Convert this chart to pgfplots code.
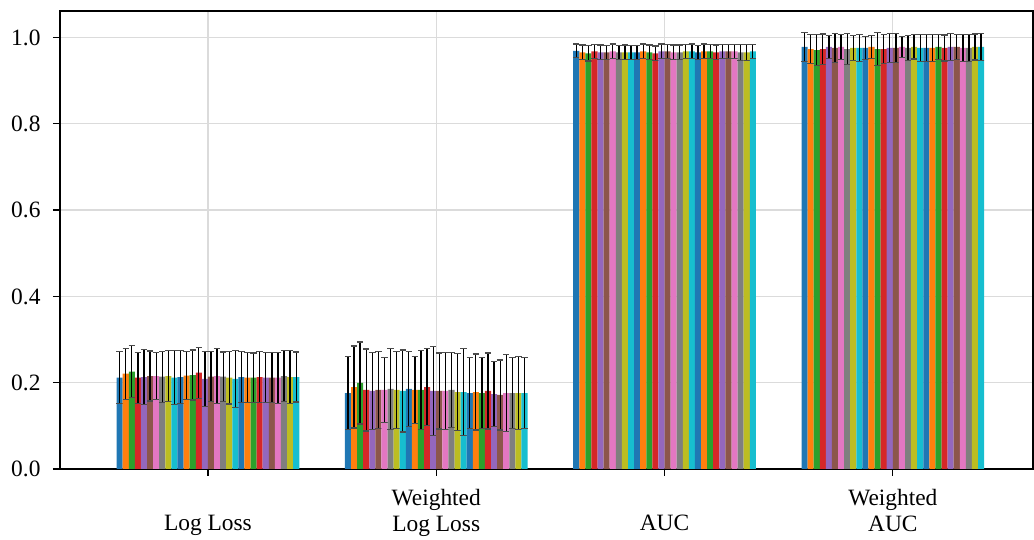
\documentclass[border=0pt]{standalone}
\usepackage{pgfplots}
\pgfplotsset{compat=1.18}
\usepackage{fontspec}
\setmainfont{Liberation Serif}
\definecolor{cA}{HTML}{1F77B4}
\definecolor{cB}{HTML}{FF7F0E}
\definecolor{cC}{HTML}{2CA02C}
\definecolor{cD}{HTML}{D62728}
\definecolor{cE}{HTML}{9467BD}
\definecolor{cF}{HTML}{8C564B}
\definecolor{cG}{HTML}{E377C2}
\definecolor{cH}{HTML}{7F7F7F}
\definecolor{cI}{HTML}{BCBD22}
\definecolor{cJ}{HTML}{17BECF}
\begin{document}
\begin{tikzpicture}
\begin{axis}[
  name=ax,
  scale only axis,
  width=973bp, height=458bp,
  xmin=-0.648, xmax=3.614,
  ymin=0, ymax=1.0614,
  ybar,
  bar width=0.0266667,
  axis line style={line width=1.3bp},
  tick style={line width=1.3bp, black},
  major tick length=7bp,
  tick align=outside,
  xtick pos=bottom, ytick pos=left,
  xtick={0,1,2,3},
  xticklabels={{\vphantom{W}\\Log Loss},{Weighted\\Log Loss},{\vphantom{W}\\AUC},{Weighted\\AUC}},
  xticklabel style={align=center, font=\fontsize{23.5}{25.5}\selectfont, yshift=-10bp},
  ytick={0,0.2,0.4,0.6,0.8,1.0},
  /pgf/number format/fixed,
  /pgf/number format/fixed zerofill,
  /pgf/number format/precision=1,
  /pgf/number format/assume math mode=true,
  yticklabel style={font=\fontsize{23.5}{25.5}\selectfont, xshift=-9bp},
  grid=major,
  major grid style={line width=1.2bp, color=black!14},
  every axis plot/.append style={draw=none},
  error bars/y dir=both,
  error bars/y explicit,
  error bars/error bar style={draw=black, line width=1.3bp},
  error bars/error mark options={rotate=90, draw=black!70, line width=1.2bp, mark size=3.2bp},
]
\addplot[fill=cA, bar shift=-0.386667] coordinates {(0,0.2117) +- (0,0.060) (1,0.1761) +- (0,0.084) (2,0.9688) +- (0,0.016) (3,0.9780) +- (0,0.033)};
\addplot[fill=cB, bar shift=-0.360000] coordinates {(0,0.2209) +- (0,0.059) (1,0.1900) +- (0,0.095) (2,0.9656) +- (0,0.017) (3,0.9733) +- (0,0.034)};
\addplot[fill=cC, bar shift=-0.333333] coordinates {(0,0.2256) +- (0,0.060) (1,0.1993) +- (0,0.095) (2,0.9633) +- (0,0.018) (3,0.9710) +- (0,0.035)};
\addplot[fill=cD, bar shift=-0.306667] coordinates {(0,0.2117) +- (0,0.059) (1,0.1831) +- (0,0.095) (2,0.9680) +- (0,0.016) (3,0.9733) +- (0,0.035)};
\addplot[fill=cE, bar shift=-0.280000] coordinates {(0,0.2132) +- (0,0.063) (1,0.1808) +- (0,0.090) (2,0.9656) +- (0,0.017) (3,0.9780) +- (0,0.027)};
\addplot[fill=cF, bar shift=-0.253333] coordinates {(0,0.2155) +- (0,0.058) (1,0.1831) +- (0,0.089) (2,0.9656) +- (0,0.016) (3,0.9757) +- (0,0.033)};
\addplot[fill=cG, bar shift=-0.226667] coordinates {(0,0.2155) +- (0,0.055) (1,0.1831) +- (0,0.076) (2,0.9680) +- (0,0.017) (3,0.9780) +- (0,0.029)};
\addplot[fill=cH, bar shift=-0.200000] coordinates {(0,0.2140) +- (0,0.059) (1,0.1854) +- (0,0.094) (2,0.9656) +- (0,0.016) (3,0.9733) +- (0,0.036)};
\addplot[fill=cI, bar shift=-0.173333] coordinates {(0,0.2155) +- (0,0.060) (1,0.1831) +- (0,0.090) (2,0.9656) +- (0,0.017) (3,0.9757) +- (0,0.029)};
\addplot[fill=cJ, bar shift=-0.146667] coordinates {(0,0.2117) +- (0,0.062) (1,0.1808) +- (0,0.095) (2,0.9656) +- (0,0.016) (3,0.9757) +- (0,0.031)};
\addplot[fill=cA, bar shift=-0.120000] coordinates {(0,0.2132) +- (0,0.061) (1,0.1854) +- (0,0.087) (2,0.9656) +- (0,0.016) (3,0.9757) +- (0,0.027)};
\addplot[fill=cB, bar shift=-0.093333] coordinates {(0,0.2163) +- (0,0.056) (1,0.1831) +- (0,0.078) (2,0.9680) +- (0,0.017) (3,0.9780) +- (0,0.026)};
\addplot[fill=cC, bar shift=-0.066667] coordinates {(0,0.2178) +- (0,0.058) (1,0.1831) +- (0,0.091) (2,0.9656) +- (0,0.017) (3,0.9733) +- (0,0.039)};
\addplot[fill=cD, bar shift=-0.040000] coordinates {(0,0.2232) +- (0,0.059) (1,0.1900) +- (0,0.089) (2,0.9633) +- (0,0.017) (3,0.9733) +- (0,0.034)};
\addplot[fill=cE, bar shift=-0.013333] coordinates {(0,0.2086) +- (0,0.064) (1,0.1808) +- (0,0.103) (2,0.9680) +- (0,0.017) (3,0.9757) +- (0,0.033)};
\addplot[fill=cF, bar shift=0.013333] coordinates {(0,0.2140) +- (0,0.058) (1,0.1808) +- (0,0.088) (2,0.9680) +- (0,0.016) (3,0.9757) +- (0,0.034)};
\addplot[fill=cG, bar shift=0.040000] coordinates {(0,0.2155) +- (0,0.063) (1,0.1808) +- (0,0.090) (2,0.9656) +- (0,0.017) (3,0.9780) +- (0,0.025)};
\addplot[fill=cH, bar shift=0.066667] coordinates {(0,0.2140) +- (0,0.057) (1,0.1831) +- (0,0.087) (2,0.9656) +- (0,0.017) (3,0.9757) +- (0,0.029)};
\addplot[fill=cI, bar shift=0.093333] coordinates {(0,0.2117) +- (0,0.061) (1,0.1784) +- (0,0.089) (2,0.9680) +- (0,0.016) (3,0.9780) +- (0,0.028)};
\addplot[fill=cJ, bar shift=0.120000] coordinates {(0,0.2086) +- (0,0.066) (1,0.1784) +- (0,0.100) (2,0.9680) +- (0,0.017) (3,0.9757) +- (0,0.032)};
\addplot[fill=cA, bar shift=0.146667] coordinates {(0,0.2132) +- (0,0.059) (1,0.1761) +- (0,0.083) (2,0.9656) +- (0,0.016) (3,0.9757) +- (0,0.032)};
\addplot[fill=cB, bar shift=0.173333] coordinates {(0,0.2117) +- (0,0.058) (1,0.1784) +- (0,0.088) (2,0.9680) +- (0,0.017) (3,0.9757) +- (0,0.032)};
\addplot[fill=cC, bar shift=0.200000] coordinates {(0,0.2117) +- (0,0.057) (1,0.1761) +- (0,0.082) (2,0.9680) +- (0,0.016) (3,0.9780) +- (0,0.029)};
\addplot[fill=cD, bar shift=0.226667] coordinates {(0,0.2132) +- (0,0.060) (1,0.1808) +- (0,0.088) (2,0.9656) +- (0,0.017) (3,0.9757) +- (0,0.030)};
\addplot[fill=cE, bar shift=0.253333] coordinates {(0,0.2117) +- (0,0.058) (1,0.1738) +- (0,0.076) (2,0.9680) +- (0,0.016) (3,0.9780) +- (0,0.031)};
\addplot[fill=cF, bar shift=0.280000] coordinates {(0,0.2117) +- (0,0.058) (1,0.1715) +- (0,0.081) (2,0.9680) +- (0,0.016) (3,0.9780) +- (0,0.029)};
\addplot[fill=cG, bar shift=0.306667] coordinates {(0,0.2117) +- (0,0.059) (1,0.1761) +- (0,0.090) (2,0.9680) +- (0,0.016) (3,0.9757) +- (0,0.032)};
\addplot[fill=cH, bar shift=0.333333] coordinates {(0,0.2155) +- (0,0.059) (1,0.1761) +- (0,0.083) (2,0.9656) +- (0,0.018) (3,0.9757) +- (0,0.032)};
\addplot[fill=cI, bar shift=0.360000] coordinates {(0,0.2132) +- (0,0.061) (1,0.1761) +- (0,0.085) (2,0.9656) +- (0,0.018) (3,0.9780) +- (0,0.030)};
\addplot[fill=cJ, bar shift=0.386667] coordinates {(0,0.2132) +- (0,0.058) (1,0.1761) +- (0,0.082) (2,0.9680) +- (0,0.016) (3,0.9780) +- (0,0.031)};
\end{axis}
\path ([shift={(-60bp,-69bp)}]ax.south west) rectangle ([shift={(1bp,11bp)}]ax.north east);
\end{tikzpicture}
\end{document}
